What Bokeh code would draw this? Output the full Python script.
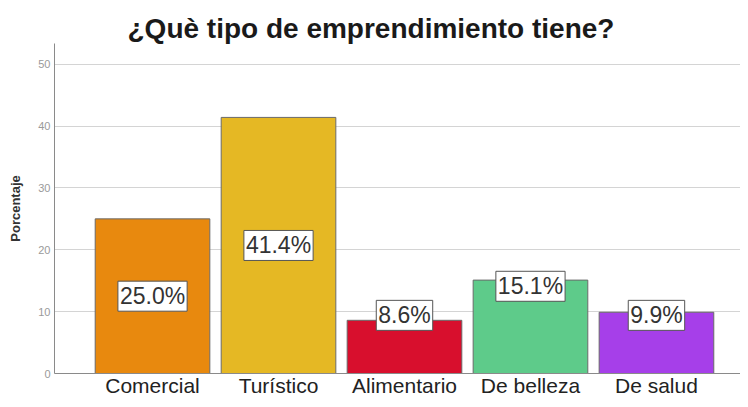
from bokeh.plotting import figure
from bokeh.models import Range1d, FixedTicker, ColumnDataSource, Label
from bokeh.embed import file_html
from bokeh.resources import INLINE

# ---- data ----
categories = ["Comercial", "Turístico", "Alimentario", "De belleza", "De salud"]
percentages = [25.0, 41.4, 8.6, 15.1, 9.9]
bar_colors = ["#E8890E", "#E5B824", "#D80F2D", "#5ECB8A", "#A63FE9"]
y_ticks = [0, 10, 20, 30, 40, 50]
title_text = "¿Què tipo de emprendimiento tiene?"
y_label = "Porcentaje"

positions = [i + 1 for i in range(len(categories))]
label_text = ["%.1f%%" % v for v in percentages]
label_y = [v / 2 if v >= 20 else max(v - 1.0, 9.4) for v in percentages]

src = ColumnDataSource(dict(x=positions, top=percentages, color=bar_colors))

p = figure(width=740, height=399, output_backend="svg", toolbar_location=None,
           x_range=Range1d(0.222, 5.667), y_range=Range1d(0, 53.35),
           min_border_left=54, min_border_right=0, min_border_top=43,
           min_border_bottom=25)
p.outline_line_color = None
p.background_fill_color = "white"

p.title.text = title_text
p.title.text_font = "Liberation Sans"
p.title.text_font_style = "bold"
p.title.text_font_size = "28px"
p.title.text_color = "#1a1a1a"
p.title.align = "left"
p.title.offset = 73
p.title.standoff = 0

p.vbar(x="x", top="top", width=0.91, bottom=0, fill_color="color",
       line_color="#6a6a6a", line_width=1, source=src)

for xv, yv, t in zip(positions, label_y, label_text):
    p.add_layout(Label(x=xv, y=yv, text=t, text_align="center",
                       text_baseline="middle", text_font="Liberation Sans",
                       text_font_size="23px", text_color="#333333",
                       background_fill_color="white",
                       border_line_color="#555555", border_line_width=1,
                       padding=2))

# axes
p.xaxis.ticker = FixedTicker(ticks=positions)
p.xaxis.major_label_overrides = {pos: c for pos, c in zip(positions, categories)}
p.xaxis.major_label_text_font = "Liberation Sans"
p.xaxis.major_label_text_font_size = "21px"
p.xaxis.major_label_text_color = "#222222"
p.xaxis.major_tick_line_color = None
p.xaxis.major_tick_out = 0
p.xaxis.major_tick_in = 0
p.xaxis.minor_tick_line_color = None
p.xaxis.major_label_standoff = 0
p.xaxis.axis_line_color = "#8a8a8a"

p.yaxis.ticker = FixedTicker(ticks=y_ticks)
p.yaxis.axis_label = y_label
p.yaxis.axis_label_text_font = "Liberation Sans"
p.yaxis.axis_label_text_font_style = "bold"
p.yaxis.axis_label_text_font_size = "13px"
p.yaxis.axis_label_text_color = "#333333"
p.yaxis.axis_label_standoff = 12
p.yaxis.major_label_text_font = "Liberation Sans"
p.yaxis.major_label_text_font_size = "11px"
p.yaxis.major_label_text_color = "#9a9a9a"
p.yaxis.major_tick_line_color = None
p.yaxis.major_tick_out = 0
p.yaxis.major_tick_in = 0
p.yaxis.minor_tick_line_color = None
p.yaxis.major_label_standoff = 4
p.yaxis.axis_line_color = "#8a8a8a"

p.xgrid.grid_line_color = None
p.ygrid.grid_line_color = "#d4d4d4"

open("out.html", "w").write(file_html(p, INLINE))
